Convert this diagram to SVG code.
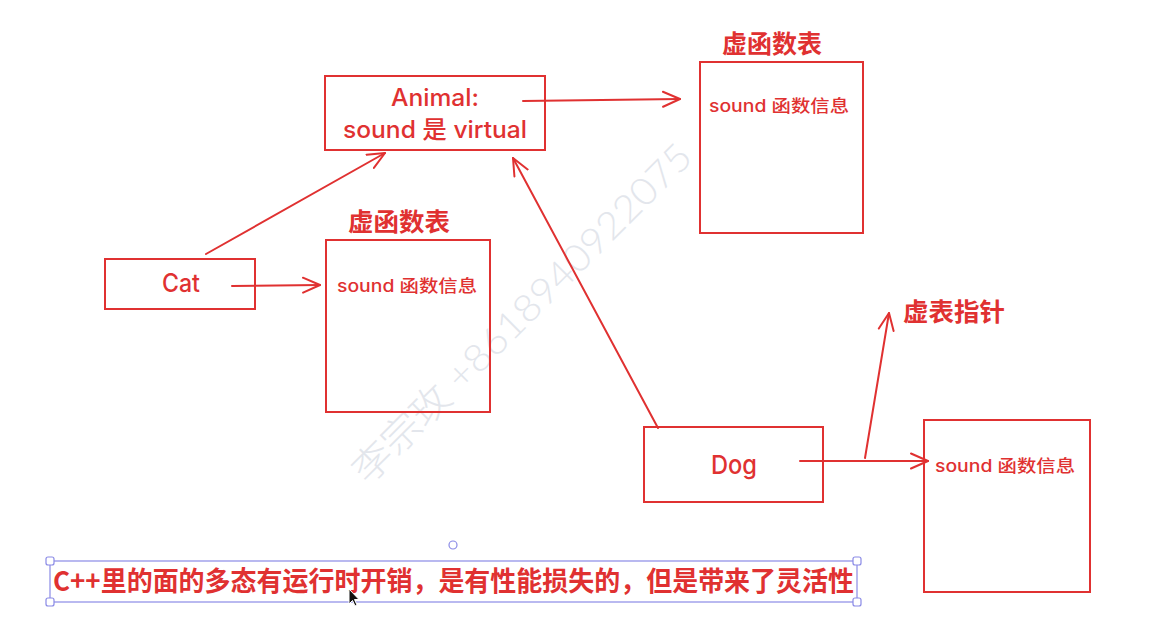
<svg xmlns="http://www.w3.org/2000/svg" width="1164" height="630" viewBox="0 0 1164 630">
<defs>
<style>
.box{fill:none;stroke:#e03131;stroke-width:2}
.edge{fill:none;stroke:#e03131;stroke-width:2;stroke-linecap:round}
.t{fill:#e03131;font-family:"Inter","Noto Sans CJK SC",sans-serif;font-weight:500}
.lbl{fill:#e03131;font-family:"Noto Sans CJK SC",sans-serif;font-weight:700}
.sel{fill:none;stroke:#8a8ae6;stroke-width:1.2}
.h{fill:#fff;stroke:#8a8ae6;stroke-width:1.2}
</style>
<marker id="ah" viewBox="0 0 20 18" refX="18" refY="9" markerWidth="20" markerHeight="18" markerUnits="userSpaceOnUse" orient="auto">
<path d="M1,1.5 L18,9 L1,16.5" fill="none" stroke="#e03131" stroke-width="2" stroke-linecap="round" stroke-linejoin="round"/>
</marker>
</defs>
<rect width="1164" height="630" fill="#ffffff"/>
<text x="0" y="0" transform="translate(368,486) rotate(-45)" font-family="Lato,'Noto Sans CJK SC',sans-serif" font-size="38" font-weight="300" fill="#e3e6ec" textLength="462" lengthAdjust="spacingAndGlyphs">李宗玫 +8618940922075</text>
<g id="connectors">
<line class="edge" x1="523" y1="101" x2="680" y2="99" marker-end="url(#ah)"/>
<line class="edge" x1="206" y1="254" x2="385" y2="153" marker-end="url(#ah)"/>
<line class="edge" x1="232" y1="286" x2="320" y2="285" marker-end="url(#ah)"/>
<line class="edge" x1="658" y1="428" x2="513" y2="158" marker-end="url(#ah)"/>
<line class="edge" x1="800" y1="461" x2="928" y2="461" marker-end="url(#ah)"/>
<line class="edge" x1="865" y1="458" x2="889" y2="313" marker-end="url(#ah)"/>
</g>
<g id="animal">
<rect class="box" x="325" y="76" width="220" height="74"/>
<text class="t" x="435" y="106" font-size="24" text-anchor="middle" textLength="88" lengthAdjust="spacingAndGlyphs">Animal:</text>
<text class="t" x="435" y="138" font-size="24" text-anchor="middle" textLength="184" lengthAdjust="spacingAndGlyphs">sound 是 virtual</text>
</g>
<g id="vtable1">
<text class="lbl" x="722" y="53" font-size="25" textLength="100" lengthAdjust="spacingAndGlyphs">虚函数表</text>
<rect class="box" x="700" y="62" width="163" height="171"/>
<text class="t" x="709" y="112" font-size="17" textLength="140" lengthAdjust="spacingAndGlyphs">sound 函数信息</text>
</g>
<g id="cat">
<rect class="box" x="105" y="259" width="150" height="50"/>
<text class="t" x="181" y="292" font-size="25" text-anchor="middle" textLength="38" lengthAdjust="spacingAndGlyphs">Cat</text>
</g>
<g id="vtable2">
<text class="lbl" x="348" y="231" font-size="25" textLength="102" lengthAdjust="spacingAndGlyphs">虚函数表</text>
<rect class="box" x="326" y="240" width="164" height="172"/>
<text class="t" x="337" y="292" font-size="17" textLength="140" lengthAdjust="spacingAndGlyphs">sound 函数信息</text>
</g>
<g id="dog">
<rect class="box" x="644" y="427" width="179" height="75"/>
<text class="t" x="734" y="474" font-size="26" text-anchor="middle" textLength="46" lengthAdjust="spacingAndGlyphs">Dog</text>
</g>
<g id="vptr-label">
<text class="lbl" x="903" y="321" font-size="25" textLength="102" lengthAdjust="spacingAndGlyphs">虚表指针</text>
</g>
<g id="vtable3">
<rect class="box" x="924" y="420" width="166" height="172"/>
<text class="t" x="935" y="472" font-size="17" textLength="140" lengthAdjust="spacingAndGlyphs">sound 函数信息</text>
</g>
<g id="note">
<rect class="sel" x="50" y="561" width="807" height="41"/>
<circle class="h" cx="453" cy="545" r="4"/>
<rect class="h" x="46" y="557" width="8" height="8" rx="2"/>
<rect class="h" x="853" y="557" width="8" height="8" rx="2"/>
<rect class="h" x="46" y="598" width="8" height="8" rx="2"/>
<rect class="h" x="853" y="598" width="8" height="8" rx="2"/>
<text class="lbl" x="53" y="591" font-size="27" font-weight="500" textLength="801" lengthAdjust="spacingAndGlyphs">C++里的面的多态有运行时开销，是有性能损失的，但是带来了灵活性</text>
<path d="M349,589 L349,604 L352.5,600.5 L355,606 L357,605 L354.5,599.5 L359,599.5 Z" fill="#111" stroke="#fff" stroke-width="1"/>
</g>
</svg>
